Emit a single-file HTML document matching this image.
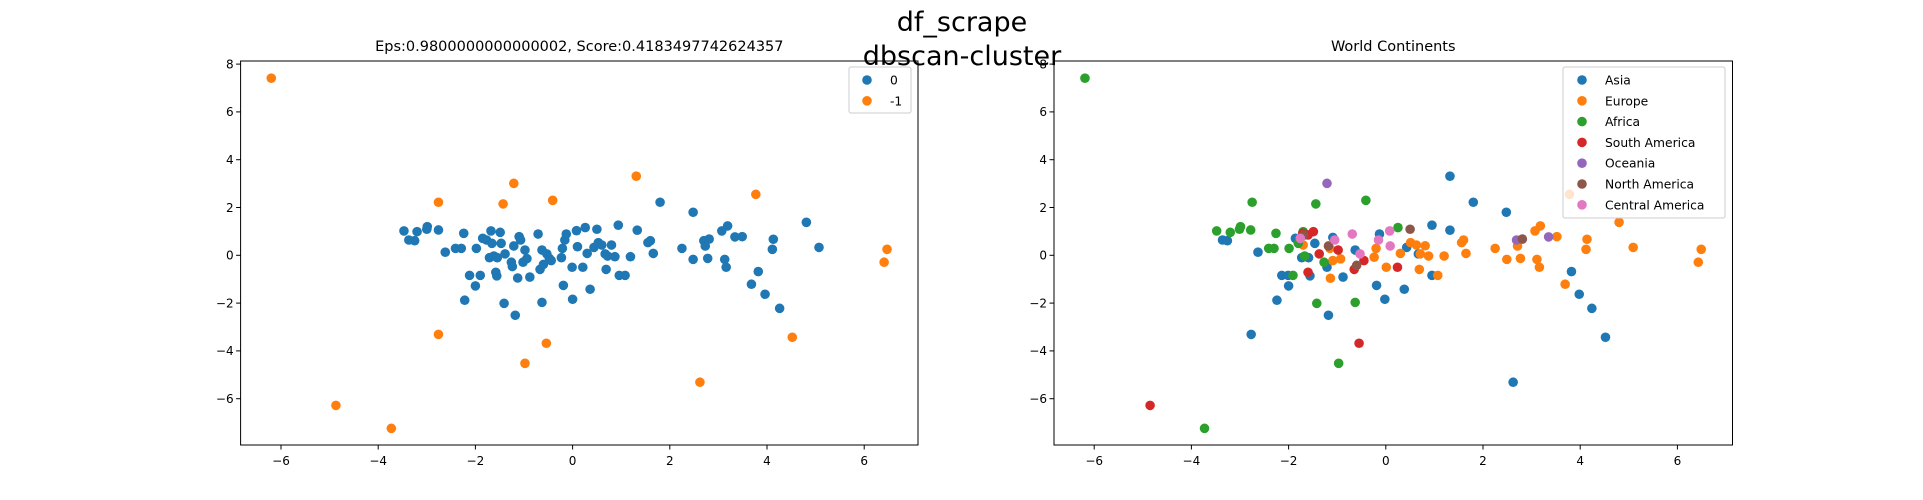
<!DOCTYPE html>
<html><head><meta charset="utf-8"><style>
body{margin:0;background:#fff;}
svg{display:block;font-family:"DejaVu Sans","Liberation Sans",sans-serif;}
</style></head><body>
<svg id="fig" width="1923" height="500" viewBox="0 0 1923 500">
<text x="962" y="31" font-size="27" text-anchor="middle">df_scrape</text>
<text x="962" y="65" font-size="27" text-anchor="middle">dbscan-cluster</text>
<g id="left"></g>
<g id="right"></g>
</svg>
<script>
const xTicks=[-6,-4,-2,0,2,4,6];
const yTicks=[-6,-4,-2,0,2,4,6,8];
const tickLabels=["−6","−4","−2","0","2","4","6","8"];
const c0x=[-3.47,-3.37,-3.25,-3.20,-3.00,-2.99,-2.76,-2.62,-2.41,-2.29,-2.24,-2.22,-2.12,-2.00,-1.98,-1.90,-1.85,-1.77,-1.71,-1.68,-1.66,-1.62,-1.58,-1.56,-1.55,-1.49,-1.47,-1.39,-1.41,-1.26,-1.24,-1.21,-1.18,-1.13,-1.10,-1.07,-1.02,-0.98,-0.94,-0.88,-0.71,-0.67,-0.63,-0.63,-0.60,-0.53,-0.48,-0.44,-0.23,-0.21,-0.19,-0.16,-0.13,-0.01,0,0.08,0.10,0.21,0.26,0.30,0.36,0.44,0.50,0.53,0.60,0.67,0.69,0.72,0.80,0.87,0.94,0.96,1.08,1.19,1.33,1.55,1.60,1.66,1.80,2.25,2.48,2.48,2.70,2.73,2.78,2.81,3.07,3.13,3.16,3.19,3.34,3.49,3.68,3.82,3.96,4.11,4.13,4.26,4.81,5.07];
const c0y=[1.02,0.64,0.61,0.99,1.09,1.20,1.06,0.13,0.29,0.29,0.92,-1.88,-0.84,-1.28,0.29,-0.84,0.71,0.64,-0.10,1.02,0.50,-0.03,-0.71,-0.86,-0.10,0.96,0.50,0.06,-2.01,-0.29,-0.47,0.39,-2.51,-0.95,0.78,0.64,-0.29,0.22,-0.14,-0.91,0.89,-0.59,0.22,-1.97,-0.38,0.06,-0.13,-0.22,-0.10,0.29,-1.26,0.64,0.89,-0.50,-1.84,1.03,0.36,-0.50,1.16,0.08,-1.42,0.33,1.09,0.53,0.43,0.06,-0.59,-0.03,0.43,-0.06,1.26,-0.84,-0.84,-0.06,1.05,0.53,0.61,0.08,2.22,0.29,1.80,-0.17,0.61,0.39,-0.13,0.68,1.02,-0.17,-0.50,1.23,0.77,0.78,-1.21,-0.68,-1.63,0.25,0.67,-2.22,1.38,0.33];
const c1x=[-6.20,-4.87,-3.73,-2.76,-2.76,-1.43,-1.21,-0.98,-0.54,-0.41,1.31,2.62,3.77,4.52,6.41,6.47];
const c1y=[7.41,-6.28,-7.24,2.22,-3.31,2.15,3.01,-4.52,-3.68,2.30,3.31,-5.31,2.55,-3.43,-0.29,0.25];
const asiaX=[-3.36,-3.26,-2.63,-2.14,-2.00,-2.24,-2.77,-1.86,-1.73,-1.59,-1.56,-1.46,-1.21,-1.18,-1.09,-0.88,-0.63,-0.19,-0.13,-0.02,0.38,0.43,0.67,0.95,0.95,1.32,1.32,1.80,2.48,2.62,3.82,3.98,4.24,4.52,-2.01];
const asiaY=[0.64,0.61,0.13,-0.84,-1.28,-1.88,-3.31,0.71,-0.10,-0.10,-0.86,0.50,-0.50,-2.51,0.75,-0.91,0.22,-1.26,0.89,-1.84,-1.42,0.33,0.06,1.26,-0.84,3.31,1.05,2.22,1.80,-5.31,-0.68,-1.63,-2.22,-3.43,-0.84];
const europeX=[-1.70,-1.14,-1.09,-0.93,-0.24,-0.20,0.01,0.30,0.51,0.63,0.69,0.71,0.81,0.88,1.07,1.20,1.56,1.60,1.65,2.25,2.49,2.71,2.77,3.07,3.11,3.16,3.18,3.52,3.69,4.12,4.14,4.80,5.09,6.43,6.49,-1.15,3.78];
const europeY=[0.43,-0.96,-0.22,-0.15,-0.08,0.29,-0.50,0.08,0.53,0.43,-0.59,0.06,0.40,-0.03,-0.84,-0.03,0.53,0.64,0.08,0.29,-0.17,0.39,-0.13,1.02,-0.17,-0.50,1.23,0.78,-1.21,0.25,0.67,1.38,0.33,-0.29,0.25,0.29,2.55];
const africaX=[-6.19,-3.73,-3.48,-3.20,-3.01,-2.99,-2.78,-2.75,-2.41,-2.30,-2.26,-1.99,-1.91,-1.80,-1.70,-1.67,-1.44,-1.42,-1.27,-0.97,-0.63,-0.41,0.25];
const africaY=[7.41,-7.24,1.02,0.96,1.09,1.20,1.06,2.22,0.29,0.29,0.92,0.29,-0.84,0.50,0.99,-0.03,2.15,-2.01,-0.29,-4.52,-1.97,2.30,1.16];
const saX=[-4.85,-1.71,-1.60,-1.49,-1.60,-1.37,-0.98,-0.65,-0.55,-0.45,0.24];
const saY=[-6.28,0.92,0.85,0.99,-0.71,0.06,0.22,-0.59,-3.68,-0.22,-0.50];
const ocX=[-1.21,2.69,3.35];
const ocY=[3.01,0.64,0.77];
const naX=[-1.69,-1.18,-0.60,0.50,2.81];
const naY=[0.84,0.39,-0.42,1.09,0.68];
const caX=[-1.76,-1.05,-0.69,-0.53,-0.15,0.08,0.09];
const caY=[0.71,0.64,0.89,0.06,0.64,1.02,0.39];
const NS="http://www.w3.org/2000/svg";
function mk(tag,attrs,parent){const e=document.createElementNS(NS,tag);for(const k in attrs)e.setAttribute(k,attrs[k]);parent.appendChild(e);return e;}
function axes(g,left,right,x0px,title){
  const top=61,bottom=445,unit=48.6,yUnit=23.9,y0px=255.3;
  const sx=v=>x0px+v*unit, sy=v=>y0px-v*yUnit;
  const t=mk('text',{x:(left+right)/2,y:51,'font-size':14.5,'text-anchor':'middle'},g);
  t.textContent=title;
  
  
  xTicks.forEach((v,i)=>{
    const l=mk('line',{x1:sx(v),x2:sx(v),y1:bottom,y2:bottom+4.5,stroke:'#000','stroke-width':1},g);
    
    
    const tx=mk('text',{x:sx(v),y:bottom+20,'font-size':12,'text-anchor':'middle'},g);
    tx.textContent=tickLabels[i];
    
    
  });
  yTicks.forEach((v,i)=>{
    const l=mk('line',{x1:left-4.5,x2:left,y1:sy(v),y2:sy(v),stroke:'#000','stroke-width':1},g);
    
    
    const tx=mk('text',{x:left-7,y:sy(v)+4.3,'font-size':12,'text-anchor':'end'},g);
    tx.textContent=tickLabels[i];
    
    
  });
  return {sx,sy,top,bottom};
}
function dots(g,a,xs,ys,color,name){
  xs.forEach((x,i)=>{
    const c=mk('circle',{cx:a.sx(x),cy:a.sy(ys[i]),r:4.8,fill:color},g);
    
    
  });
}
function frame(g,left,right){
  const r=mk('rect',{x:left,y:61,width:right-left,height:384,fill:'none',stroke:'#000','stroke-width':1},g);
  
  
}
function legend(g,x,y,w,h,entries,mx,tx){
  const r=mk('rect',{x:x,y:y,width:w,height:h,rx:2,fill:'#fff','fill-opacity':0.8,stroke:'#ccc','stroke-width':1},g);
  
  
  entries.forEach((e,i)=>{
    const cy=y+13+i*20.8;
    const c=mk('circle',{cx:mx,cy:cy,r:4.8,fill:e[1]},g);
    
    
    const t=mk('text',{x:tx,y:cy+4.5,'font-size':12.3},g);
    t.textContent=e[0];
    
    
  });
}
const C=['#1f77b4','#ff7f0e','#2ca02c','#d62728','#9467bd','#8c564b','#e377c2'];
const L=document.getElementById('left');
const a1=axes(L,240.6,918,572.6,'Eps:0.9800000000000002, Score:0.4183497742624357');
dots(L,a1,c0x,c0y,C[0],'cluster-0-point');
dots(L,a1,c1x,c1y,C[1],'noise-point');
frame(L,240.6,918);
legend(L,849,67,62,46,[['0',C[0]],['-1',C[1]]],867,890);
const R=document.getElementById('right');
const a2=axes(R,1054,1732.5,1385.8,'World Continents');
dots(R,a2,asiaX,asiaY,C[0],'asia-point');
dots(R,a2,europeX,europeY,C[1],'europe-point');
dots(R,a2,africaX,africaY,C[2],'africa-point');
dots(R,a2,saX,saY,C[3],'south-america-point');
dots(R,a2,ocX,ocY,C[4],'oceania-point');
dots(R,a2,naX,naY,C[5],'north-america-point');
dots(R,a2,caX,caY,C[6],'central-america-point');
frame(R,1054,1732.5);
legend(R,1563,67,162,151,[['Asia',C[0]],['Europe',C[1]],['Africa',C[2]],['South America',C[3]],['Oceania',C[4]],['North America',C[5]],['Central America',C[6]]],1582,1605);
</script>
</body></html>
